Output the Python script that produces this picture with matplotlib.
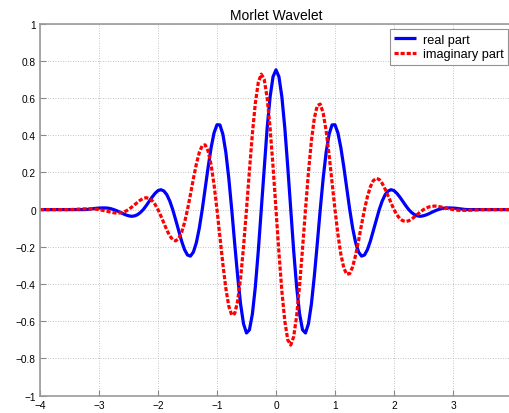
import matplotlib
matplotlib.use("Agg")
import matplotlib.pyplot as plt

plt.rcParams['font.family'] = ['Liberation Sans', 'DejaVu Sans']

t_pos = [0.00, 0.05, 0.10, 0.15, 0.20, 0.25, 0.30, 0.35, 0.40, 0.45,
         0.50, 0.55, 0.60, 0.65, 0.70, 0.75, 0.80, 0.85, 0.90, 0.95,
         1.00, 1.05, 1.10, 1.15, 1.20, 1.25, 1.30, 1.35, 1.40, 1.45,
         1.50, 1.55, 1.60, 1.65, 1.70, 1.75, 1.80, 1.85, 1.90, 1.95,
         2.00, 2.05, 2.10, 2.15, 2.20, 2.25, 2.30, 2.35, 2.40, 2.45,
         2.50, 2.55, 2.60, 2.65, 2.70, 2.75, 2.80, 2.85, 2.90, 2.95,
         3.00, 3.05, 3.10, 3.15, 3.20, 3.25, 3.50, 4.00]
real_pos = [0.751, 0.714, 0.605, 0.437, 0.227, 0.000, -0.222, -0.415, -0.561, -0.646,
            -0.663, -0.614, -0.508, -0.357, -0.182, 0.000, 0.169, 0.308, 0.405, 0.455,
            0.456, 0.412, 0.332, 0.228, 0.113, 0.000, -0.100, -0.178, -0.228, -0.250,
            -0.244, -0.215, -0.169, -0.113, -0.055, 0.000, 0.046, 0.080, 0.100, 0.107,
            0.102, 0.087, 0.067, 0.044, 0.021, 0.000, -0.016, -0.028, -0.034, -0.036,
            -0.033, -0.028, -0.021, -0.013, -0.006, 0.000, 0.005, 0.008, 0.009, 0.009,
            0.008, 0.007, 0.005, 0.003, 0.001, 0.000, 0.000, 0.000]
imag_pos = [0.000, -0.232, -0.439, -0.601, -0.700, -0.728, -0.683, -0.572, -0.408, -0.210,
            0.000, 0.200, 0.369, 0.492, 0.559, 0.567, 0.519, 0.423, 0.294, 0.148,
            0.000, -0.134, -0.241, -0.314, -0.348, -0.344, -0.307, -0.244, -0.166, -0.081,
            0.000, 0.070, 0.123, 0.156, 0.168, 0.162, 0.141, 0.110, 0.073, 0.035,
            0.000, -0.028, -0.049, -0.060, -0.064, -0.060, -0.051, -0.038, -0.025, -0.012,
            0.000, 0.009, 0.015, 0.018, 0.019, 0.017, 0.014, 0.010, 0.007, 0.003,
            0.000, -0.002, -0.004, -0.004, -0.004, -0.004, 0.000, 0.000]

# negative side (real part even, imaginary part odd)
t_neg = [-4.00, -3.50, -3.25, -3.20, -3.15, -3.10, -3.05, -3.00,
         -2.95, -2.90, -2.85, -2.80, -2.75, -2.70, -2.65, -2.60, -2.55, -2.50,
         -2.45, -2.40, -2.35, -2.30, -2.25, -2.20, -2.15, -2.10, -2.05, -2.00,
         -1.95, -1.90, -1.85, -1.80, -1.75, -1.70, -1.65, -1.60, -1.55, -1.50,
         -1.45, -1.40, -1.35, -1.30, -1.25, -1.20, -1.15, -1.10, -1.05, -1.00,
         -0.95, -0.90, -0.85, -0.80, -0.75, -0.70, -0.65, -0.60, -0.55, -0.50,
         -0.45, -0.40, -0.35, -0.30, -0.25, -0.20, -0.15, -0.10, -0.05]
real_neg = [0.000, 0.000, 0.000, 0.001, 0.003, 0.005, 0.007, 0.008,
            0.009, 0.009, 0.008, 0.005, 0.000, -0.006, -0.013, -0.021, -0.028, -0.033,
            -0.036, -0.034, -0.028, -0.016, 0.000, 0.021, 0.044, 0.067, 0.087, 0.102,
            0.107, 0.100, 0.080, 0.046, 0.000, -0.055, -0.113, -0.169, -0.215, -0.244,
            -0.250, -0.228, -0.178, -0.100, 0.000, 0.113, 0.228, 0.332, 0.412, 0.456,
            0.455, 0.405, 0.308, 0.169, 0.000, -0.182, -0.357, -0.508, -0.614, -0.663,
            -0.646, -0.561, -0.415, -0.222, 0.000, 0.227, 0.437, 0.605, 0.714]
imag_neg = [0.000, 0.000, 0.004, 0.004, 0.004, 0.004, 0.002, 0.000,
            -0.003, -0.007, -0.010, -0.014, -0.017, -0.019, -0.018, -0.015, -0.009, 0.000,
            0.012, 0.025, 0.038, 0.051, 0.060, 0.064, 0.060, 0.049, 0.028, 0.000,
            -0.035, -0.073, -0.110, -0.141, -0.162, -0.168, -0.156, -0.123, -0.070, 0.000,
            0.081, 0.166, 0.244, 0.307, 0.344, 0.348, 0.314, 0.241, 0.134, 0.000,
            -0.148, -0.294, -0.423, -0.519, -0.567, -0.559, -0.492, -0.369, -0.200, 0.000,
            0.210, 0.408, 0.572, 0.683, 0.728, 0.700, 0.601, 0.439, 0.232]

t = t_neg + t_pos
real_part = real_neg + real_pos
imag_part = imag_neg + imag_pos

x_ticks = [-4, -3, -2, -1, 0, 1, 2, 3, 4]
y_ticks = [-1, -0.8, -0.6, -0.4, -0.2, 0, 0.2, 0.4, 0.6, 0.8, 1]
y_labels = ['\u22121', '\u22120.8', '\u22120.6', '\u22120.4', '\u22120.2', '0',
            '0.2', '0.4', '0.6', '0.8', '1']
x_labels = ['\u22124', '\u22123', '\u22122', '\u22121', '0', '1', '2', '3', '4']

fig = plt.figure(figsize=(5.10, 4.14), dpi=100)
ax = fig.add_axes([0.0784, 0.0418, 0.9255, 0.899])

ax.plot(t, real_part, color='#0000ff', lw=2.3, label='real part', solid_capstyle='butt')
ax.plot(t, imag_part, color='#ff0000', lw=2.3, ls=(0, (1.3, 0.6)), label='imaginary part')

ax.set_xlim(-4, 4)
ax.set_ylim(-1, 1)
ax.set_xticks(x_ticks)
ax.set_xticklabels(x_labels)
ax.set_yticks(y_ticks)
ax.set_yticklabels(y_labels)
ax.tick_params(direction='in', length=4, width=0.8, color='#888888', labelsize=7.3, pad=3)
ax.grid(True, color='#b0b0b0', ls=(0, (1, 2)), lw=0.6)
for s in ax.spines.values():
    s.set_color('#999999')
    s.set_linewidth(1.2)

ax.set_title('Morlet Wavelet', fontsize=10, pad=3)

leg = ax.legend(loc='upper right', bbox_to_anchor=(0.9915, 0.985), fontsize=9.2,
                frameon=True, fancybox=False, handlelength=1.7, handletextpad=0.55,
                borderpad=0.35, labelspacing=0.2, borderaxespad=0)
leg.get_frame().set_edgecolor('#777777')
leg.get_frame().set_linewidth(0.8)

fig.savefig('out.png', dpi=100)
